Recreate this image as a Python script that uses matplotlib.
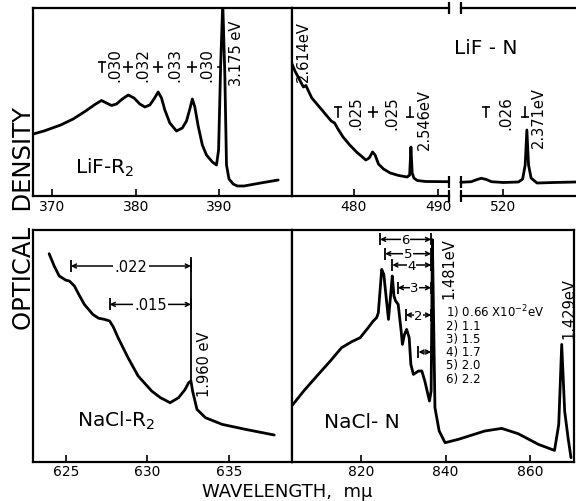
import matplotlib
matplotlib.use('Agg')
import matplotlib.pyplot as plt

# ---------------- data (wavelength in m-mu, optical density in arbitrary units) ----------------
lifr2_wl = [367.7, 369.0, 371.0, 372.5, 374.0, 375.2, 375.9, 376.5, 377.1, 377.7, 378.4, 379.1,
            379.8, 380.5, 381.1, 381.7, 382.2, 382.7, 383.1, 383.5, 384.1, 384.9, 385.6, 386.1,
            386.5, 386.8, 387.1, 387.5, 388.0, 388.5, 389.2, 389.7, 389.95, 390.2, 390.45, 390.7,
            390.9, 391.2, 391.7, 392.2, 393.0, 395.0, 397.1]
lifr2_od = [61, 64, 70, 76, 84, 91, 94.5, 92, 89.5, 91, 96, 100,
            97, 91, 88, 90, 96, 103, 97, 85, 72, 64, 67, 74,
            86, 96, 88, 69, 50, 40, 33, 30, 45, 130, 192, 120,
            30, 16, 11, 9, 9, 12, 15]

lifn_wl_a = [472.65, 473.0, 473.5, 474.0, 474.3, 474.6, 475.0, 475.8, 476.6, 477.3, 477.7, 478.1,
             478.7, 479.5, 480.3, 481.0, 481.4, 481.8, 482.2, 482.5, 482.9, 483.5, 484.3, 485.3,
             486.3, 486.6, 486.75, 486.9, 487.1, 487.5, 488.5, 491.3]
lifn_od_a = [131, 124, 116, 108, 109.5, 104, 97, 89, 81, 74, 72, 66,
             58, 50, 43, 38, 35, 37, 43, 40, 31, 26, 22, 19.5,
             18, 20, 48, 22, 17, 14.5, 13.5, 13.3]
lifn_wl_b = [514.95, 516.2, 516.9, 517.4, 518.0, 518.6, 520.0, 521.8, 522.3, 522.6, 522.8, 523.0,
             523.3, 524.0, 526.0, 528.6]
lifn_od_b = [12.7, 13.3, 15.5, 16.7, 15.5, 13.3, 12.5, 13, 16, 30, 65, 30,
             17, 12, 12.5, 13]

naclr2_wl = [623.97, 624.28, 624.59, 625.0, 625.21, 625.52, 625.8, 626.13, 626.65, 627.0, 627.37,
             627.68, 627.9, 628.20, 628.81, 629.43, 630.26, 630.8, 631.39, 631.91, 632.3, 632.53,
             632.67, 632.77, 633.04, 633.56, 634.59, 636.03, 637.78]
naclr2_od = [208, 195.7, 185.7, 181.5, 180.7, 175.7, 167, 157.3, 147.3, 143.5, 142.3,
             140.7, 135, 124, 104, 85.7, 70.7, 64, 59, 64, 72, 79,
             80.7, 70.7, 52.3, 44, 37.3, 32.3, 26.7]

ncln_wl = [803.6, 806.5, 809.9, 812.8, 815.4, 817.8, 819.8, 821.7, 822.9, 823.7, 824.1, 824.9, 825.4,
           825.8, 826.5, 827.1, 827.4, 827.8, 828.2, 828.8, 829.5, 829.8, 830.3, 830.8, 831.4,
           831.8, 832.4, 833.6, 834.4, 835.1, 836.2, 836.6, 836.9, 837.2, 837.5, 838.5, 839.9,
           843.0, 849.3, 853.3, 857.2, 862.0, 865.8, 866.8, 867.5, 868.2, 869.0, 869.7]
ncln_od = [55.7, 71, 87.3, 101, 114, 120, 124, 134, 140.7, 144, 149, 192.3, 187.3,
           170.7, 142.3, 170.7, 185.7, 165.7, 160.7, 157.3, 130.7, 117.3, 127.3, 132.3, 124,
           97.3, 87.3, 90.7, 90.7, 80.7, 60.7, 70.7, 222, 137.3, 54, 30.7, 19,
           22.3, 30.7, 33.3, 28, 17.3, 11.3, 37.3, 117.3, 50.7, 24, 4]

# spacing annotations
lifr2_marks = [375.9, 379.1, 382.7, 386.8, 390.2]
lifr2_gaps = ['.030', '.032', '.033', '.030']
lifn_marks_a = [478.1, 482.3, 486.6]
lifn_gaps_a = ['.025', '.025']
lifn_marks_b = [518.0, 522.6]
lifn_gaps_b = ['.026']
naclr2_dims = [(625.3, '.022', 195.7), (627.68, '.015', 157.3)]
naclr2_peak = 632.67
ncln_dims = [(824.5, '6', 222.3), (825.7, '5', 208), (827.4, '4', 196.7),
             (828.7, '3', 174), (830.6, '2', 146.7), (833.6, '', 109.7)]
ncln_dim_end = 836.6
ncln_legend = ['1) 0.66 X10$^{-2}$eV', '2) 1.1', '3) 1.5', '4) 1.7', '5) 2.0', '6) 2.2']

# ---------------- figure ----------------
plt.rcParams['font.family'] = ['DejaVu Sans']
W, H = 576, 502
fig = plt.figure(figsize=(W / 100, H / 100), dpi=100)

def add_ax(x0, y0, x1, y1):
    return fig.add_axes([x0 / W, 1 - y1 / H, (x1 - x0) / W, (y1 - y0) / H])

LW_SP = 1.6
LW_C = 2.0
FS_ANN = 10.5

def style(ax, ticks):
    for s in ax.spines.values():
        s.set_linewidth(LW_SP)
    ax.set_yticks([])
    ax.set_xticks(ticks)
    ax.tick_params(axis='x', direction='in', length=5, width=1.2, labelsize=10, pad=2,
                   top=False, bottom=True)

ax_tl = add_ax(33, 9, 292, 197)
ax_ta = add_ax(292, 9, 449.3, 197)
ax_tb = add_ax(460.7, 9, 576, 197)
ax_bl = add_ax(33, 230.7, 292, 462.7)
ax_br = add_ax(292, 230.7, 574, 462.7)

style(ax_tl, [370, 380, 390]); ax_tl.set_xlim(367.68, 398.76); ax_tl.set_ylim(-1, 187)
style(ax_ta, [480, 490]); ax_ta.set_xlim(472.65, 491.3); ax_ta.set_ylim(-1, 187)
style(ax_tb, [520]); ax_tb.set_xlim(514.95, 528.63); ax_tb.set_ylim(-1, 187)
style(ax_bl, [625, 630, 635]); ax_bl.set_xlim(622.98, 638.87); ax_bl.set_ylim(0, 232)
style(ax_br, [820, 840, 860]); ax_br.set_xlim(803.67, 870.41); ax_br.set_ylim(0, 232)

ax_ta.spines['right'].set_visible(False)
ax_tb.spines['left'].set_visible(False)
ax_tb.spines['right'].set_visible(False)

# curves
kw = dict(color='black', lw=LW_C, solid_joinstyle='round', solid_capstyle='round')
ax_tl.plot(lifr2_wl, lifr2_od, **kw)
ax_ta.plot(lifn_wl_a, lifn_od_a, **kw)
ax_tb.plot(lifn_wl_b, lifn_od_b, clip_on=False, **kw)
ax_bl.plot(naclr2_wl, naclr2_od, **kw)
ax_br.plot(ncln_wl, ncln_od, **kw)

# break bars
for ax, xa in ((ax_ta, 1.0), (ax_tb, 0.0)):
    ax.plot([xa, xa], [0, 1], ls='none', marker='|', ms=9, mew=1.6, color='black',
            transform=ax.transAxes, clip_on=False)
ax_ta.plot([lifn_wl_a[-1]], [lifn_od_a[-1]], ls='none', marker='|', ms=9, mew=1.6, color='black', clip_on=False)
ax_tb.plot([lifn_wl_b[0]], [lifn_od_b[0]], ls='none', marker='|', ms=9, mew=1.6, color='black', clip_on=False)

# spacing marks in top panels
def marks(ax, xs, y, kinds):
    for x, k in zip(xs, kinds):
        if k == 'T':
            ax.plot([x, x], [y - 5, y + 5], color='black', lw=1.2)
            ax.plot([x], [y + 5], marker='_', ms=6, mew=1.2, color='black')
        elif k == '+':
            ax.plot([x, x], [y - 5, y + 5], color='black', lw=1.2)
            ax.plot([x], [y], marker='_', ms=7, mew=1.2, color='black')
        elif k == 'L':
            ax.plot([x, x], [y - 5, y + 5], color='black', lw=1.2)
            ax.plot([x], [y - 5], marker='_', ms=6, mew=1.2, color='black')
        elif k == '-':
            ax.plot([x - 0.35, x], [y, y], color='black', lw=1.2)

marks(ax_tl, lifr2_marks, 128, ['T', '+', '+', '+', '-'])
for i, t in enumerate(lifr2_gaps):
    xm = (lifr2_marks[i] + lifr2_marks[i + 1]) / 2
    ax_tl.text(xm, 131, t, rotation=90, ha='center', va='center', fontsize=11)
ax_tl.text(392.15, 142.7, '3.175 eV', rotation=90, ha='center', va='center', fontsize=FS_ANN)
ax_tl.text(376.3, 28, 'LiF-R$_2$', ha='center', va='center', fontsize=14.5)

marks(ax_ta, lifn_marks_a, 83, ['T', '+', 'L'])
for i, t in enumerate(lifn_gaps_a):
    xm = (lifn_marks_a[i] + lifn_marks_a[i + 1]) / 2
    ax_ta.text(xm, 83, t, rotation=90, ha='center', va='center', fontsize=11)
ax_ta.text(488.4, 76, '2.546eV', rotation=90, ha='center', va='center', fontsize=FS_ANN)
ax_ta.text(474.0, 144, '2.614eV', rotation=90, ha='center', va='center', fontsize=FS_ANN)

marks(ax_tb, lifn_marks_b, 83, ['T', 'L'])
ax_tb.text((lifn_marks_b[0] + lifn_marks_b[1]) / 2, 83, lifn_gaps_b[0], rotation=90,
           ha='center', va='center', fontsize=11)
ax_tb.text(524.15, 78, '2.371eV', rotation=90, ha='center', va='center', fontsize=FS_ANN)
fig.text(486 / W, 1 - 48 / H, 'LiF - N', ha='center', va='center', fontsize=14.5)

# dimension lines
def dim(ax, x1, x2, y, label, fs=10.5, pad=1.0):
    ax.annotate('', xy=(x2, y), xytext=(x1, y),
                arrowprops=dict(arrowstyle='<->', lw=1.1, color='black', shrinkA=0, shrinkB=0,
                                mutation_scale=7))
    ax.plot([x1, x2], [y, y], ls='none', marker='|', ms=8, mew=1.3, color='black')
    if label:
        ax.text((x1 + x2) / 2, y, label, ha='center', va='center', fontsize=fs,
                bbox=dict(facecolor='white', edgecolor='none', pad=pad))

ax_bl.plot([naclr2_peak, naclr2_peak], [80, 204], color='black', lw=1.3)
for x1, lab, y in naclr2_dims:
    dim(ax_bl, x1, naclr2_peak, y, lab)
ax_bl.text(633.53, 98, '1.960 eV', rotation=90, ha='center', va='center', fontsize=FS_ANN)
ax_bl.text(628.07, 42.3, 'NaCl-R$_2$', ha='center', va='center', fontsize=14.5)

for x1, lab, y in ncln_dims:
    dim(ax_br, x1, ncln_dim_end, y, lab, fs=9.5, pad=0.3)
ax_br.text(840.7, 194, '1.481eV', rotation=90, ha='center', va='center', fontsize=FS_ANN)
ax_br.text(869.1, 154, '1.429eV', rotation=90, ha='center', va='center', fontsize=FS_ANN)
ax_br.text(820.2, 40.7, 'NaCl- N', ha='center', va='center', fontsize=14.5)
leg_y = [150.5, 136.5, 123.3, 110.1, 96.9, 83.7]
for t, y in zip(ncln_legend, leg_y):
    ax_br.text(840.0, y, t, ha='left', va='center', fontsize=8.5)

fig.text(24 / W, 1 - 218 / H, 'OPTICAL  DENSITY', rotation=90, ha='center', va='center', fontsize=17.5)
fig.text(287.5 / W, 1 - 501.5 / H, 'WAVELENGTH,  m\u03bc', ha='center', va='bottom', fontsize=13)

fig.savefig('out.png', dpi=100)
